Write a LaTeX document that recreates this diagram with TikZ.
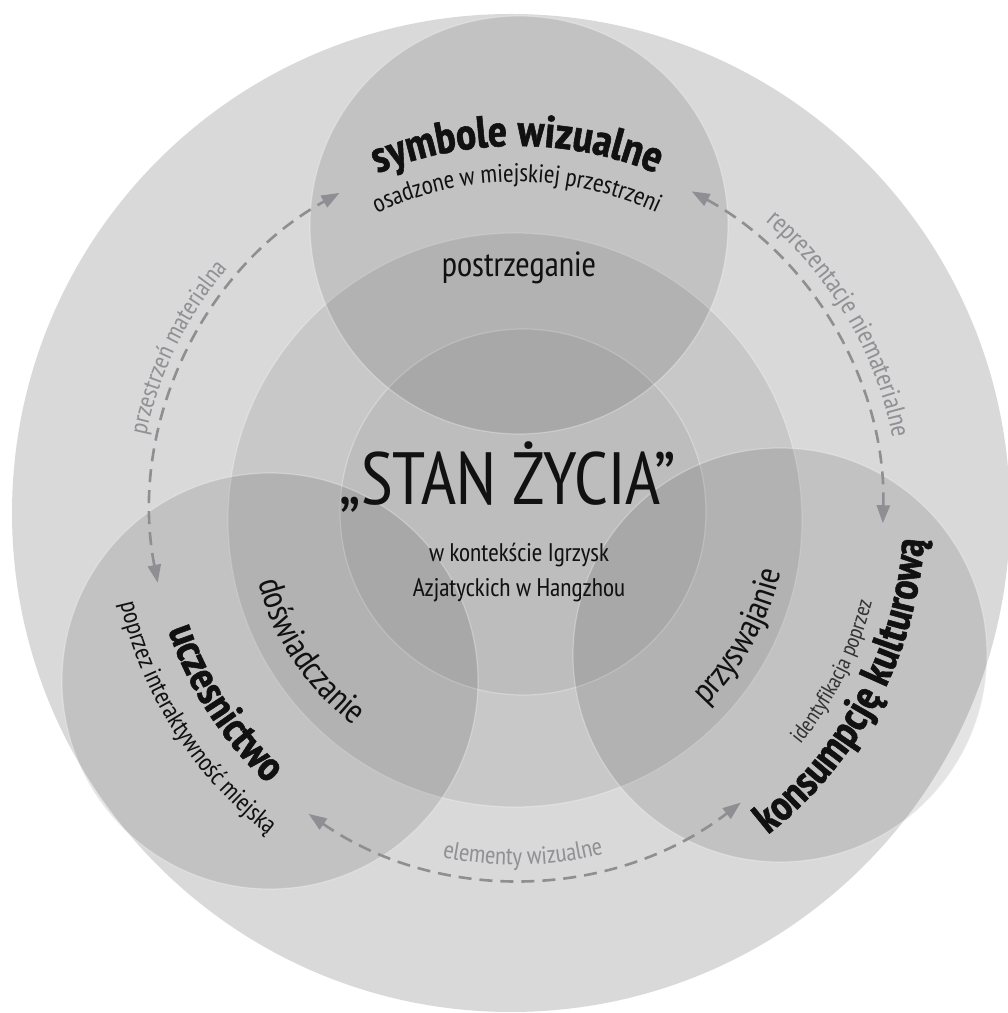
\documentclass[tikz,border=0pt]{standalone}
\usepackage{fontspec}
\setmainfont{PT Sans Narrow}[BoldFeatures={FakeBold=1.2}]
\usetikzlibrary{decorations.text,arrows.meta}
\definecolor{outerc}{HTML}{D9D9D9}
\definecolor{dashc}{HTML}{8E8E93}
\definecolor{lblc}{HTML}{909095}
\definecolor{ink}{HTML}{111111}
\definecolor{thinink}{HTML}{333333}
\newcommand\fBoldTop{\bfseries\fontsize{45}{45}\selectfont}
\newcommand\fBold{\bfseries\fontsize{43}{43}\selectfont}
\newcommand\fMid{\fontsize{35}{35}\selectfont}
\newcommand\fSmall{\fontsize{25.5}{25.5}\selectfont}
\newcommand\fLab{\fontsize{25}{25}\selectfont}
\newcommand\fLabR{\fontsize{26.5}{26.5}\selectfont}
\newcommand\fTiny{\fontsize{22}{22}\selectfont}
\begin{document}
\begin{tikzpicture}[x=1pt,y=1pt,
  disc/.style={circle, inner sep=0pt, outer sep=0pt, fill=black, draw=white, draw opacity=0.3, line width=1.2pt},
  dashline/.style={draw=dashc, line width=2.6pt, dash pattern=on 13pt off 8pt,
    {Triangle[length=18pt,width=13pt,fill=dashc]}-{Triangle[length=18pt,width=13pt,fill=dashc]}},
  arctext/.style={decorate, decoration={text along path, text align=center}},
  flat/.style={inner sep=0pt, anchor=base, text=ink}
]
\useasboundingbox (0,0) rectangle (1008,1013);
% circles
\node[circle, inner sep=0pt, minimum size=998pt, fill=outerc] (outer) at (511,500) {};
\node[disc, minimum size=574pt, fill opacity=0.075] (mid) at (515,493) {};
\node[disc, minimum size=366pt, fill opacity=0.05] (inner) at (523,501) {};
\node[disc, minimum size=418pt, fill opacity=0.105] (topc) at (519,788) {};
\node[disc, minimum size=416pt, fill opacity=0.105] (blc) at (270,332) {};
\node[disc, minimum size=414pt, fill opacity=0.105] (brc) at (780,358) {};
\coordinate (C) at (517,500);
% dashed connectors
\coordinate (la) at ([shift={(C)}]191:366pt);
\coordinate (ra) at ([shift={(C)}]61.5:366pt);
\coordinate (ba) at ([shift={(C)}]235.3:366pt);
\draw[dashline] (la) arc[start angle=191, end angle=119, radius=366pt] coordinate (lb);
\draw[dashline] (ra) arc[start angle=61.5, end angle=-1.6, radius=366pt] coordinate (rb);
\draw[dashline] (ba) arc[start angle=235.3, end angle=307.7, radius=366pt] coordinate (bb);
% flat texts
\node[flat, font=\fontsize{74}{74}\selectfont] (title) at (508,508) {„STAN ŻYCIA”};
\node[flat, font=\fontsize{25.5}{25.5}\selectfont] (sub1) at (519,451) {w kontekście Igrzysk};
\node[flat, font=\fontsize{25.5}{25.5}\selectfont] (sub2) at (519,416) {Azjatyckich w Hangzhou};
\node[flat, font=\fMid] (postr) at (519,736) {postrzeganie};
% curved texts: top (clockwise, tops outward)
\path[arctext, decoration={text={|\fBoldTop\color{ink}|symbole wizualne}}]
  ([shift={(C)}]150:367pt) arc[start angle=150, end angle=30, radius=367pt];
\path[arctext, decoration={text={|\fSmall\color{ink}|osadzone w miejskiej przestrzeni}}]
  ([shift={(C)}]160:331pt) arc[start angle=160, end angle=20, radius=331pt];
\path[arctext, decoration={text={|\fLab\color{lblc}|przestrzeń materialna}}]
  ([shift={(C)}]200:379pt) arc[start angle=200, end angle=108, radius=379pt];
\path[arctext, decoration={text={|\fLabR\color{lblc}|reprezentacje niematerialne}}]
  ([shift={(C)}]80:383pt) arc[start angle=80, end angle=-19.2, radius=383pt];
% curved texts: bottom (counter-clockwise, tops inward)
\path[arctext, decoration={text={|\fLab\color{lblc}|elementy wizualne}}]
  ([shift={(C)}]225:352pt) arc[start angle=225, end angle=317, radius=352pt];
\path[arctext, decoration={text={|\fBold\color{ink}|uczesnictwo}}]
  ([shift={(C)}]163:368pt) arc[start angle=163, end angle=263, radius=368pt];
\path[arctext, decoration={text={|\fSmall\color{ink}|poprzez interaktywność miejską}}]
  ([shift={(C)}]160:407pt) arc[start angle=160, end angle=265.2, radius=407pt];
\path[arctext, decoration={text={|\fMid\color{ink}|doświadczanie}}]
  ([shift={(C)}]163:268pt) arc[start angle=163, end angle=264.6, radius=268pt];
\path[arctext, decoration={text={|\fMid\color{ink}|przyswajanie}}]
  ([shift={(C)}]281:270pt) arc[start angle=281, end angle=381, radius=270pt];
\path[arctext, decoration={text={|\fTiny\color{thinink}|identyfikacja poprzez}}]
  ([shift={(C)}]290:366pt) arc[start angle=290, end angle=376.8, radius=366pt];
\path[arctext, decoration={text={|\fBold\color{ink}|konsumpcję kulturową}}]
  ([shift={(C)}]280:408pt) arc[start angle=280, end angle=384.2, radius=408pt];
\end{tikzpicture}
\end{document}
